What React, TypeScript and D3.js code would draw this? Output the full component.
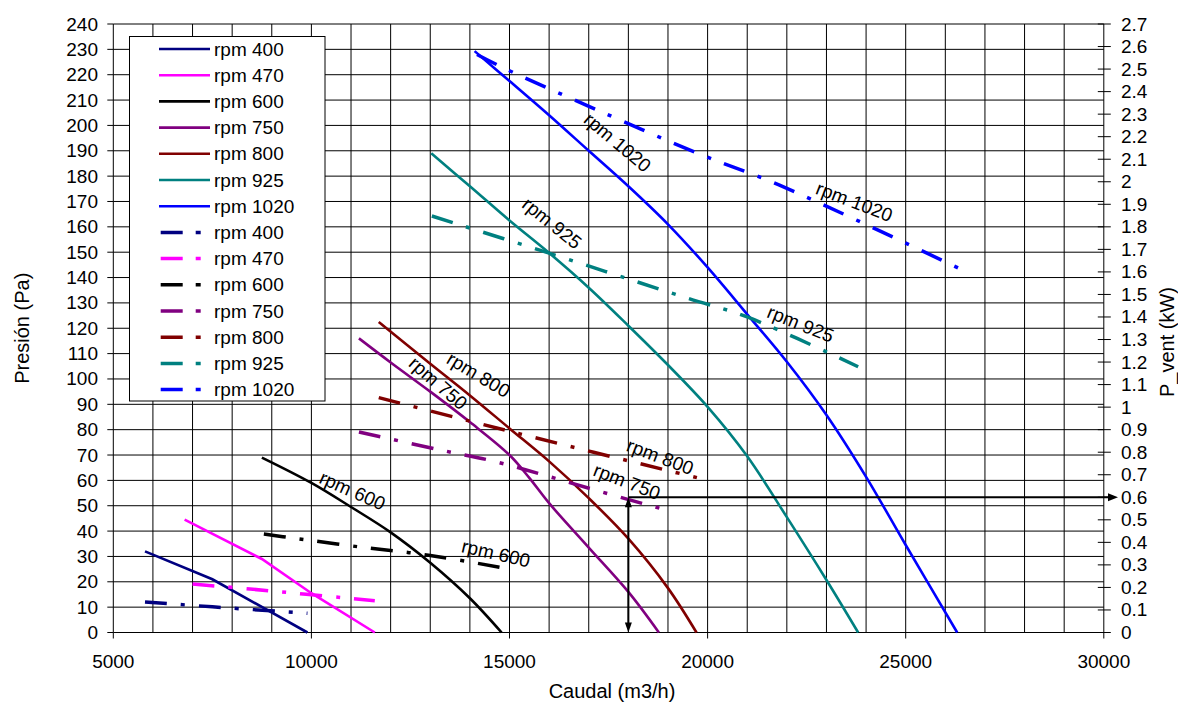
import * as React from 'react'
import * as d3 from 'd3'

const rpmNames = ['rpm 400', 'rpm 470', 'rpm 600', 'rpm 750', 'rpm 800', 'rpm 925', 'rpm 1020']
const colors = ['#000080', '#ff00ff', '#000000', '#800080', '#800000', '#008080', '#0000ff']

// caudal (m3/h) -> presión (Pa)
const q400 = [5800, 7500, 9900]
const p400 = [32, 21, 0]
const q470 = [6800, 8750, 10000, 11600]
const p470 = [44.5, 29, 15.5, 0]
const q600 = [8750, 10000, 11000, 12000, 13000, 14000, 14800]
const p600 = [69, 59, 49.5, 39.5, 27.5, 13.5, 0]
const q750 = [11200, 12000, 13000, 14000, 15000, 15500, 16000, 17000, 18000, 18770]
const p750 = [116, 106.5, 95, 83, 70, 61, 51, 33.5, 16, 0]
const q800 = [11700, 13000, 14000, 15000, 16000, 17000, 18000, 19000, 19720]
const p800 = [122.5, 106, 93.5, 80.5, 67.5, 53, 37, 17.5, 0]
const q925 = [13025, 14000, 15000, 16000, 17000, 18000, 19000, 20000, 21000, 22000, 23000, 23800]
const p925 = [189, 176, 162.5, 149.7, 136, 121, 105.5, 89, 69.5, 45.5, 20.7, 0]
const q1020 = [14120, 15000, 16000, 17000, 18000, 19000, 20000, 21000, 22000, 23000, 24000, 25000, 26300]
const p1020 = [229.3, 217.5, 204, 190, 176, 161, 144, 125.5, 106.8, 85.8, 61.4, 34.5, 0]

// caudal (m3/h) -> P_vent (kW)
const qw400 = [5800, 7500, 9900]
const w400 = [0.135, 0.114, 0.085]
const qw470 = [7000, 8450, 11600]
const w470 = [0.215, 0.193, 0.141]
const qw600 = [8800, 9500, 11200, 13000, 14800]
const w600 = [0.437, 0.42, 0.38, 0.342, 0.288]
const qw750 = [11200, 13250, 14600, 15900, 17200, 18800]
const w750 = [0.89, 0.81, 0.76, 0.697, 0.63, 0.551]
const qw800 = [11700, 15200, 19730]
const w800 = [1.042, 0.884, 0.687]
const qw925 = [13040, 16000, 19500, 21000, 23800]
const w925 = [1.848, 1.683, 1.483, 1.4, 1.179]
const qw1020 = [14180, 14850, 17220, 19810, 21800, 26330]
const w1020 = [2.565, 2.505, 2.318, 2.122, 1.986, 1.617]

const xTicks = [5000, 10000, 15000, 20000, 25000, 30000]
const yTicks = d3.range(0, 241, 10)
const yRTicks = d3.range(0, 28).map(i => i / 10)

// etiquetas sobre las curvas: [texto, caudal, presión, ángulo]
const curveLabels: [string, number, number, number][] = [
  ['rpm 1020', 17726, 193.3, 40],
  ['rpm 925', 16070, 161.4, 39],
  ['rpm 1020', 23703, 169.9, 21],
  ['rpm 925', 22347, 121.7, 22],
  ['rpm 800', 14216, 101.6, 31],
  ['rpm 750', 13199, 98.3, 41],
  ['rpm 800', 18804, 69.3, 21],
  ['rpm 750', 17963, 59.5, 21],
  ['rpm 600', 11035, 55.9, 24],
  ['rpm 600', 14656, 31.2, 13],
]

const markQ = 18000
const markW = 0.6

const font = 'Liberation Sans, Arial, sans-serif'

const App = () => {
  const width = 1178
  const height = 704
  const left = 113.3, right = 1103.8, top = 24, bottom = 632.5

  const x = d3.scaleLinear().domain([5000, 30000]).range([left, right])
  const y = d3.scaleLinear().domain([0, 240]).range([bottom, top])
  const yR = d3.scaleLinear().domain([0, 2.7]).range([bottom, top])

  const smooth = d3.curveCatmullRom.alpha(0.5)

  const pLine = (qs: number[], ps: number[], c: any) =>
    d3.line<number>().x((d, i) => x(qs[i])).y(d => y(d)).curve(c)(ps)
  const wLine = (qs: number[], ws: number[]) =>
    d3.line<number>().x((d, i) => x(qs[i])).y(d => yR(d)).curve(smooth)(ws)

  const pSeries = [[q400, p400], [q470, p470], [q600, p600], [q750, p750], [q800, p800], [q925, p925], [q1020, p1020]]
  const wSeries = [[qw400, w400], [qw470, w470], [qw600, w600], [qw750, w750], [qw800, w800], [qw925, w925], [qw1020, w1020]]

  const vGrid = d3.range(6000, 30000, 1000)
  const hGrid = d3.range(10, 241, 10)

  const ax = x(markQ)
  const ay = yR(markW)

  return (
    <div style={{ position: 'absolute', left: 0, top: 0 }}>
      <svg width={width} height={height} style={{ display: 'block', background: '#fff' }} fontFamily={font}>
        <rect width={width} height={height} fill="#fff" />
        {vGrid.map(v => (
          <line key={'v' + v} x1={x(v)} x2={x(v)} y1={top} y2={bottom} stroke="#000" strokeWidth={1} />
        ))}
        {hGrid.map(v => (
          <line key={'h' + v} x1={left} x2={right} y1={y(v)} y2={y(v)} stroke="#000" strokeWidth={1} />
        ))}

        {/* ejes */}
        <line x1={left} x2={left} y1={top} y2={bottom} stroke="#000" />
        <line x1={right} x2={right} y1={top} y2={bottom} stroke="#000" />
        <line x1={left} x2={right} y1={bottom} y2={bottom} stroke="#000" />
        {yTicks.map(t => (
          <g key={'yt' + t}>
            <line x1={left - 6} x2={left} y1={y(t)} y2={y(t)} stroke="#000" />
            <text x={98} y={y(t)} textAnchor="end" dominantBaseline="central" fontSize={19}>{t}</text>
          </g>
        ))}
        {yRTicks.map(t => (
          <g key={'yr' + t}>
            <line x1={right - 6} x2={right + 7} y1={yR(t)} y2={yR(t)} stroke="#000" />
            <text x={1121} y={yR(t)} dominantBaseline="central" fontSize={19}>{d3.format('~g')(t)}</text>
          </g>
        ))}
        {xTicks.map(t => (
          <g key={'xt' + t}>
            <line x1={x(t)} x2={x(t)} y1={bottom} y2={bottom + 6} stroke="#000" />
            <text x={x(t)} y={668} textAnchor="middle" fontSize={19}>{t}</text>
          </g>
        ))}

        <text x={612} y={698} textAnchor="middle" fontSize={20}>Caudal (m3/h)</text>
        <text transform={`translate(22,${(top + bottom) / 2}) rotate(-90)`} textAnchor="middle" dominantBaseline="central" fontSize={20}>Presión (Pa)</text>
        <text transform={`translate(1167,342) rotate(-90)`} textAnchor="middle" dominantBaseline="central" fontSize={20}>P_vent (kW)</text>

        {/* curvas de presión */}
        {pSeries.map((s, i) => (
          <path key={'p' + i} d={pLine(s[0], s[1], i < 2 ? d3.curveLinear : smooth) || ''} fill="none"
            stroke={colors[i]} strokeWidth={2.6} />
        ))}
        {/* curvas de potencia */}
        {wSeries.map((s, i) => (
          <path key={'w' + i} d={wLine(s[0], s[1]) || ''} fill="none" stroke={colors[i]} strokeWidth={3.5}
            strokeDasharray="22 14 4 14" />
        ))}

        {curveLabels.map(([txt, q, p, a], i) => (
          <text key={'cl' + i} transform={`translate(${x(q)},${y(p)}) rotate(${a})`} textAnchor="middle"
            dominantBaseline="central" fontSize={19}>{txt}</text>
        ))}

        {/* flechas */}
        <line x1={ax} x2={ax} y1={bottom - 9} y2={ay + 9} stroke="#000" strokeWidth={2} />
        <path d={`M${ax},${ay} l-3.5,10 h7 z`} fill="#000" />
        <path d={`M${ax},${bottom} l-3.5,-10 h7 z`} fill="#000" />
        <line x1={ax} x2={1108} y1={ay} y2={ay} stroke="#000" strokeWidth={2} />
        <path d={`M1118,${ay} l-10,-4 v8 z`} fill="#000" />

        {/* leyenda */}
        <rect x={129.5} y={36.5} width={195.5} height={364.5} fill="#fff" stroke="#000" />
        {rpmNames.concat(rpmNames).map((name, i) => {
          const ly = 49 + i * 26.2
          const c = colors[i % 7]
          const dashed = i >= 7
          return (
            <g key={'lg' + i}>
              {dashed ? (
                <line x1={160.7} x2={201} y1={ly} y2={ly} stroke={c} strokeWidth={3.5} strokeDasharray="22 13 5 100" />
              ) : (
                <line x1={159} x2={210} y1={ly} y2={ly} stroke={c} strokeWidth={2.6} />
              )}
              <text x={214} y={ly} dominantBaseline="central" fontSize={19}>{name}</text>
            </g>
          )
        })}
      </svg>
    </div>
  )
}

export default App
